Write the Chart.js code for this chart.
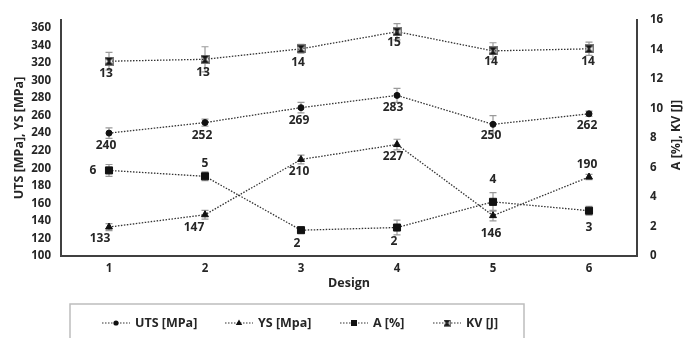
<!DOCTYPE html>
<html>
<head>
<meta charset="utf-8">
<script src="https://cdn.jsdelivr.net/npm/chart.js@4.4.0/dist/chart.umd.min.js"></script>
<style>
    body { margin: 0; background: #fff; }
</style>
</head>
<body>
<canvas id="grafico" width="698" height="338"></canvas>
<script>
const designs = ['1', '2', '3', '4', '5', '6'];

const uts = [240, 252, 269, 283, 250, 262];
const utsErro = [6, 4, 6, 8, 10, 3];

const ys = [133, 147, 210, 227, 146, 190];
const ysErro = [4, 5, 5, 6, 6, 3];

const alongamento = [5.8, 5.4, 1.75, 1.93, 3.67, 3.07];
const alongamentoErro = [0.4, 0.3, 0.2, 0.5, 0.63, 0.3];
const alongamentoRotulos = ['6', '5', '2', '2', '4', '3'];

const kv = [13.2, 13.33, 14.04, 15.2, 13.9, 14.04];
const kvErro = [0.6, 0.85, 0.3, 0.55, 0.55, 0.45];
const kvRotulos = ['13', '13', '14', '15', '14', '14'];

const ticksEsquerda = [100, 120, 140, 160, 180, 200, 220, 240, 260, 280, 300, 320, 340, 360];
const ticksDireita = [0, 2, 4, 6, 8, 10, 12, 14, 16];

// deslocamento dos rotulos (dx, dy) em px
const posUts = [[-3, 12], [-3, 13], [-2, 13], [-4, 12], [-2, 11], [-2, 12]];
const posYs = [[-9, 12], [-11, 13], [-2, 12], [-4, 12], [-2, 18], [-2, -12]];
const posA = [[-16, 0], [0, -13], [-4, 13], [-3, 14], [0, -22], [0, 17]];
const posKv = [[-3, 12], [-2, 13], [-3, 14], [-3, 11], [-2, 11], [-1, 13]];

// inicio de cada item da legenda
const legendaX = [102, 225, 340, 433];

const FONTE = '"Open Sans", "Noto Sans", sans-serif';
const COR_TEXTO = '#262626';

function marcadorKv() {
    const c = document.createElement('canvas');
    c.width = 9; c.height = 9;
    const g = c.getContext('2d');
    g.fillStyle = '#111';
    g.beginPath();
    g.moveTo(0, 0); g.lineTo(9, 0); g.lineTo(0, 9); g.lineTo(9, 9);
    g.closePath();
    g.fill();
    g.strokeStyle = '#222';
    g.lineWidth = 1.4;
    g.beginPath();
    g.moveTo(0, 0); g.lineTo(9, 9);
    g.moveTo(9, 0); g.lineTo(0, 9);
    g.stroke();
    g.strokeStyle = '#777';
    g.lineWidth = 1;
    g.strokeRect(0.5, 0.5, 8, 8);
    return c;
}
const iconeKv = marcadorKv();

function serie(label, data, erro, rotulos, pos, estilo, raio, eixo) {
    return {
        label, data, erro, rotulos, pos,
        yAxisID: eixo,
        borderColor: '#333',
        borderWidth: 1.3,
        borderDash: [1.5, 1.5],
        backgroundColor: '#111',
        pointBackgroundColor: '#111',
        pointBorderColor: '#111',
        pointBorderWidth: 1,
        pointStyle: estilo,
        pointRadius: raio,
        tension: 0
    };
}

const barrasErro = {
    id: 'barrasErro',
    beforeDatasetsDraw(chart) {
        const ctx = chart.ctx;
        ctx.save();
        ctx.strokeStyle = '#9a9a9a';
        ctx.lineWidth = 1.2;
        chart.data.datasets.forEach((ds, i) => {
            const meta = chart.getDatasetMeta(i);
            const escala = chart.scales[ds.yAxisID];
            meta.data.forEach((pt, j) => {
                const topo = escala.getPixelForValue(ds.data[j] + ds.erro[j]);
                const base = escala.getPixelForValue(ds.data[j] - ds.erro[j]);
                ctx.beginPath();
                ctx.moveTo(pt.x, topo); ctx.lineTo(pt.x, base);
                ctx.moveTo(pt.x - 3.5, topo); ctx.lineTo(pt.x + 3.5, topo);
                ctx.moveTo(pt.x - 3.5, base); ctx.lineTo(pt.x + 3.5, base);
                ctx.stroke();
            });
        });
        ctx.restore();
    },
    afterDatasetsDraw(chart) {
        const ctx = chart.ctx;
        ctx.save();
        ctx.font = 'bold 12px ' + FONTE;
        ctx.fillStyle = COR_TEXTO;
        ctx.textAlign = 'center';
        ctx.textBaseline = 'middle';
        chart.data.datasets.forEach((ds, i) => {
            const meta = chart.getDatasetMeta(i);
            meta.data.forEach((pt, j) => {
                const txt = ds.rotulos ? ds.rotulos[j] : String(ds.data[j]);
                ctx.fillText(txt, pt.x + ds.pos[j][0], pt.y + ds.pos[j][1]);
            });
        });
        ctx.restore();
    }
};

const extras = {
    id: 'extras',
    afterDraw(chart) {
        const ctx = chart.ctx;
        ctx.save();
        // titulo do eixo direito
        ctx.font = 'bold 12.5px ' + FONTE;
        ctx.fillStyle = COR_TEXTO;
        ctx.textAlign = 'center';
        ctx.textBaseline = 'middle';
        ctx.translate(676, 135);
        ctx.rotate(-Math.PI / 2);
        ctx.fillText('A [%], KV [J]', 0, 0);
        ctx.restore();

        // legenda
        ctx.save();
        ctx.strokeStyle = '#bdbdbd';
        ctx.lineWidth = 1.5;
        ctx.strokeRect(70, 304, 454, 40);
        ctx.font = 'bold 12.5px ' + FONTE;
        ctx.textBaseline = 'middle';
        ctx.textAlign = 'left';
        const y = 323;
        chart.data.datasets.forEach((ds, i) => {
            const x = legendaX[i];
            ctx.strokeStyle = '#333';
            ctx.lineWidth = 1.2;
            ctx.setLineDash([1.5, 1.5]);
            ctx.beginPath();
            ctx.moveTo(x, y); ctx.lineTo(x + 28, y);
            ctx.stroke();
            ctx.setLineDash([]);
            const cx = x + 14;
            ctx.fillStyle = '#111';
            ctx.beginPath();
            if (ds.pointStyle === 'circle') {
                ctx.arc(cx, y, 2.6, 0, Math.PI * 2);
                ctx.fill();
            } else if (ds.pointStyle === 'triangle') {
                ctx.moveTo(cx, y - 3.5); ctx.lineTo(cx + 3.2, y + 2); ctx.lineTo(cx - 3.2, y + 2);
                ctx.closePath();
                ctx.fill();
            } else if (ds.pointStyle === 'rect') {
                ctx.fillRect(cx - 3, y - 3, 6, 6);
            } else {
                ctx.drawImage(ds.pointStyle, cx - 3.5, y - 3.5, 7, 7);
            }
            ctx.fillStyle = COR_TEXTO;
            ctx.fillText(ds.label, x + 33, y);
        });
        ctx.restore();
    }
};

const data = {
    labels: designs,
    datasets: [
        serie('UTS [MPa]', uts, utsErro, null, posUts, 'circle', 3, 'y'),
        serie('YS [Mpa]', ys, ysErro, null, posYs, 'triangle', 4, 'y'),
        serie('A [%]', alongamento, alongamentoErro, alongamentoRotulos, posA, 'rect', 5, 'y1'),
        serie('KV [J]', kv, kvErro, kvRotulos, posKv, iconeKv, 4.5, 'y1')
    ]
};

const config = {
    type: 'line',
    data,
    options: {
        responsive: false,
        animation: false,
        layout: {
            padding: { top: 15, bottom: 47, left: 0, right: 0 }
        },
        plugins: {
            legend: { display: false },
            tooltip: { enabled: false }
        },
        scales: {
            x: {
                offset: true,
                grid: { display: true, drawOnChartArea: false, drawTicks: false },
                border: { display: true, color: '#404040', width: 2 },
                ticks: {
                    padding: 6,
                    color: COR_TEXTO,
                    font: { family: FONTE, size: 11.5, weight: 'bold' }
                },
                title: {
                    display: true,
                    text: 'Design',
                    color: COR_TEXTO,
                    padding: { top: 0, bottom: 0 },
                    font: { family: FONTE, size: 12.5, weight: 'bold' }
                },
                afterFit: (s) => { s.height = 35; }
            },
            y: {
                position: 'left',
                min: 100,
                max: 369,
                grid: { display: true, drawOnChartArea: false, drawTicks: false },
                border: { display: true, color: '#404040', width: 2 },
                ticks: {
                    padding: 10,
                    color: COR_TEXTO,
                    font: { family: FONTE, size: 11.5, weight: 'bold' }
                },
                afterBuildTicks: (s) => { s.ticks = ticksEsquerda.map(v => ({ value: v })); },
                title: {
                    display: true,
                    text: 'UTS [MPa], YS [MPa]',
                    color: COR_TEXTO,
                    padding: { top: 12, bottom: 0 },
                    font: { family: FONTE, size: 12.5, weight: 'bold' }
                },
                afterFit: (s) => { s.width = 61; }
            },
            y1: {
                position: 'right',
                min: 0,
                max: 16,
                grid: { display: true, drawOnChartArea: false, drawTicks: false },
                border: { display: true, color: '#404040', width: 2 },
                ticks: {
                    padding: 13,
                    color: COR_TEXTO,
                    font: { family: FONTE, size: 11.5, weight: 'bold' }
                },
                afterBuildTicks: (s) => { s.ticks = ticksDireita.map(v => ({ value: v })); },
                afterFit: (s) => { s.width = 61; }
            }
        }
    },
    plugins: [barrasErro, extras]
};

const ctx = document.getElementById('grafico').getContext('2d');
new Chart(ctx, config);
</script>
</body>
</html>
